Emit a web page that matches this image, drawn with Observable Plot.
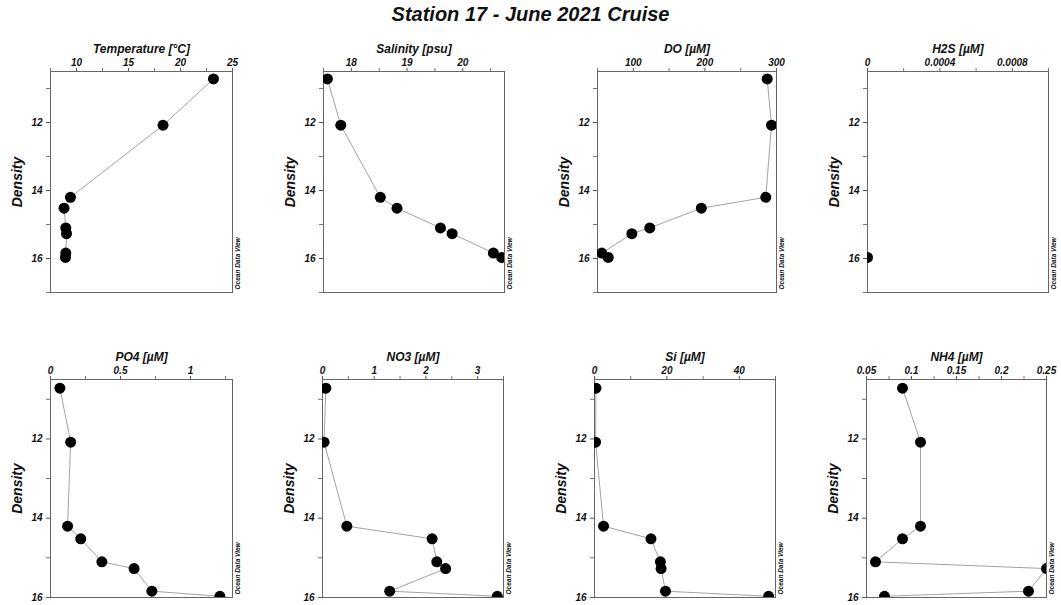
<!DOCTYPE html>
<html>
<head>
<meta charset="utf-8">
<script src="https://cdn.jsdelivr.net/npm/d3@7"></script>
<script src="https://cdn.jsdelivr.net/npm/@observablehq/plot@0.6"></script>
<style>
  html, body { margin: 0; padding: 0; background: #fff; }
  #chart { position: relative; width: 1061px; height: 605px; overflow: hidden; background: #fff; }
  #title { position: absolute; left: 0; width: 1061px; top: 3px; text-align: center;
           font: italic bold 20px "Liberation Sans", Arial, sans-serif; color: #111; }
</style>
</head>
<body>
<div id="chart"><div id="title">Station 17 - June 2021 Cruise</div></div>
<script>
// ---- data ----
const density     = [10.72, 12.08, 14.20, 14.52, 15.10, 15.27, 15.84, 15.97];
const temperature = [23.17, 18.32, 9.42, 8.80, 8.97, 9.04, 8.97, 8.94];
const salinity    = [17.57, 17.81, 18.52, 18.82, 19.60, 19.81, 20.55, 20.70];
const oxygen      = [287, 293, 285, 195, 123, 98, 56, 65];
const h2s         = [null, null, null, null, null, null, null, 0];
const po4         = [0.067, 0.144, 0.122, 0.216, 0.367, 0.597, 0.724, 1.21];
const no3         = [0.065, 0.03, 0.47, 2.12, 2.21, 2.38, 1.30, 3.38];
const si          = [0.4, 0.3, 2.5, 15.6, 18.2, 18.4, 19.6, 48.1];
const nh4         = [0.09, 0.11, 0.11, 0.09, 0.06, 0.25, 0.23, 0.07];

const titles = ["Temperature [°C]", "Salinity [psu]", "DO [µM]", "H2S [µM]",
                "PO4 [µM]", "NO3 [µM]", "Si [µM]", "NH4 [µM]"];
const series = [temperature, salinity, oxygen, h2s, po4, no3, si, nh4];
const xDomains = [[7.5, 25], [17.5, 20.75], [50, 300], [0, 0.001],
                  [0, 1.3], [0, 3.5], [0, 50], [0.05, 0.25]];
const xMajor = [[10, 15, 20, 25], [18, 19, 20], [100, 200, 300], [0, 0.0004, 0.0008],
                [0, 0.5, 1], [0, 1, 2, 3], [0, 20, 40], [0.05, 0.1, 0.15, 0.2, 0.25]];
const xMinor = [[7.5, 12.5, 17.5, 22.5], [17.5, 18.5, 19.5, 20.5], [50, 150, 250], [0.0002, 0.0006, 0.001],
                [0.25, 0.75, 1.25], [0.5, 1.5, 2.5, 3.5], [10, 30, 50], [0.075, 0.125, 0.175, 0.225]];
const yDomainTop = [10.5, 17];
const yDomainBottom = [10.5, 16];
const yMajor = [12, 14, 16];
const yMinorTop = [11, 13, 15, 17];
const yMinorBottom = [11, 13, 15];

// ---- layout (frame boxes in page pixels) ----
const frames = [
  {l: 50, r: 232, t: 71, b: 292}, {l: 323, r: 504, t: 71, b: 292},
  {l: 597, r: 776, t: 71, b: 292}, {l: 867, r: 1048, t: 71, b: 292},
  {l: 50, r: 232, t: 379, b: 597}, {l: 322, r: 503, t: 379, b: 597},
  {l: 594, r: 775, t: 379, b: 597}, {l: 866, r: 1046, t: 379, b: 597}
];
const mL = 50, mR = 12, mT = 40, mB = 6;
const font = '"Liberation Sans", Arial, sans-serif';
const chart = document.getElementById("chart");

series.forEach((vals, k) => {
  const f = frames[k];
  const top = k < 4;
  const data = density.map((d, i) => ({density: d, value: vals[i]}));
  const fmt = d => String(d);
  const svg = Plot.plot({
    width: (f.r - f.l) + mL + mR,
    height: (f.b - f.t) + mT + mB,
    marginLeft: mL, marginRight: mR, marginTop: mT, marginBottom: mB,
    style: {position: "absolute", left: (f.l - mL) + "px", top: (f.t - mT) + "px",
            fontFamily: font, fontSize: "10px", fontWeight: "bold", fontStyle: "italic",
            background: "transparent", overflow: "visible", color: "#111"},
    x: {domain: xDomains[k], axis: null},
    y: {domain: top ? yDomainTop : yDomainBottom, reverse: true, axis: null},
    marks: [
      Plot.axisX({anchor: "top", ticks: xMajor[k], tickFormat: fmt, tickSize: 4, tickPadding: 2,
                  stroke: "#555", label: null}),
      Plot.axisX({anchor: "top", ticks: xMinor[k], tickFormat: () => "", tickSize: 4,
                  stroke: "#777", label: null}),
      Plot.axisY({anchor: "left", ticks: yMajor, tickFormat: fmt, tickSize: 4, tickPadding: 4,
                  stroke: "#555", label: null}),
      Plot.axisY({anchor: "left", ticks: top ? yMinorTop : yMinorBottom, tickFormat: () => "",
                  tickSize: 4, stroke: "#777", label: null}),
      Plot.frame({stroke: "#666", strokeWidth: 1}),
      Plot.line(data, {x: "value", y: "density", stroke: "#8a8a8a", strokeWidth: 0.8}),
      Plot.dot(data, {x: "value", y: "density", r: 5.5, fill: "black", stroke: "none", clip: true}),
      Plot.text([titles[k]], {frameAnchor: "top", dy: -19, fontSize: 12, text: d => d,
                  lineAnchor: "bottom", fill: "#111"}),
      Plot.text(["Density"], {frameAnchor: "left", dx: -33, rotate: -90, fontSize: 14,
                  text: d => d, textAnchor: "middle", lineAnchor: "middle", fill: "#111"}),
      Plot.text(["Ocean Data View"], {frameAnchor: "bottom-right", dx: 5, dy: -3, rotate: -90,
                  fontSize: 6.5, text: d => d, textAnchor: "start", lineAnchor: "middle", fill: "#111"})
    ]
  });
  chart.appendChild(svg);
});
</script>
</body>
</html>
